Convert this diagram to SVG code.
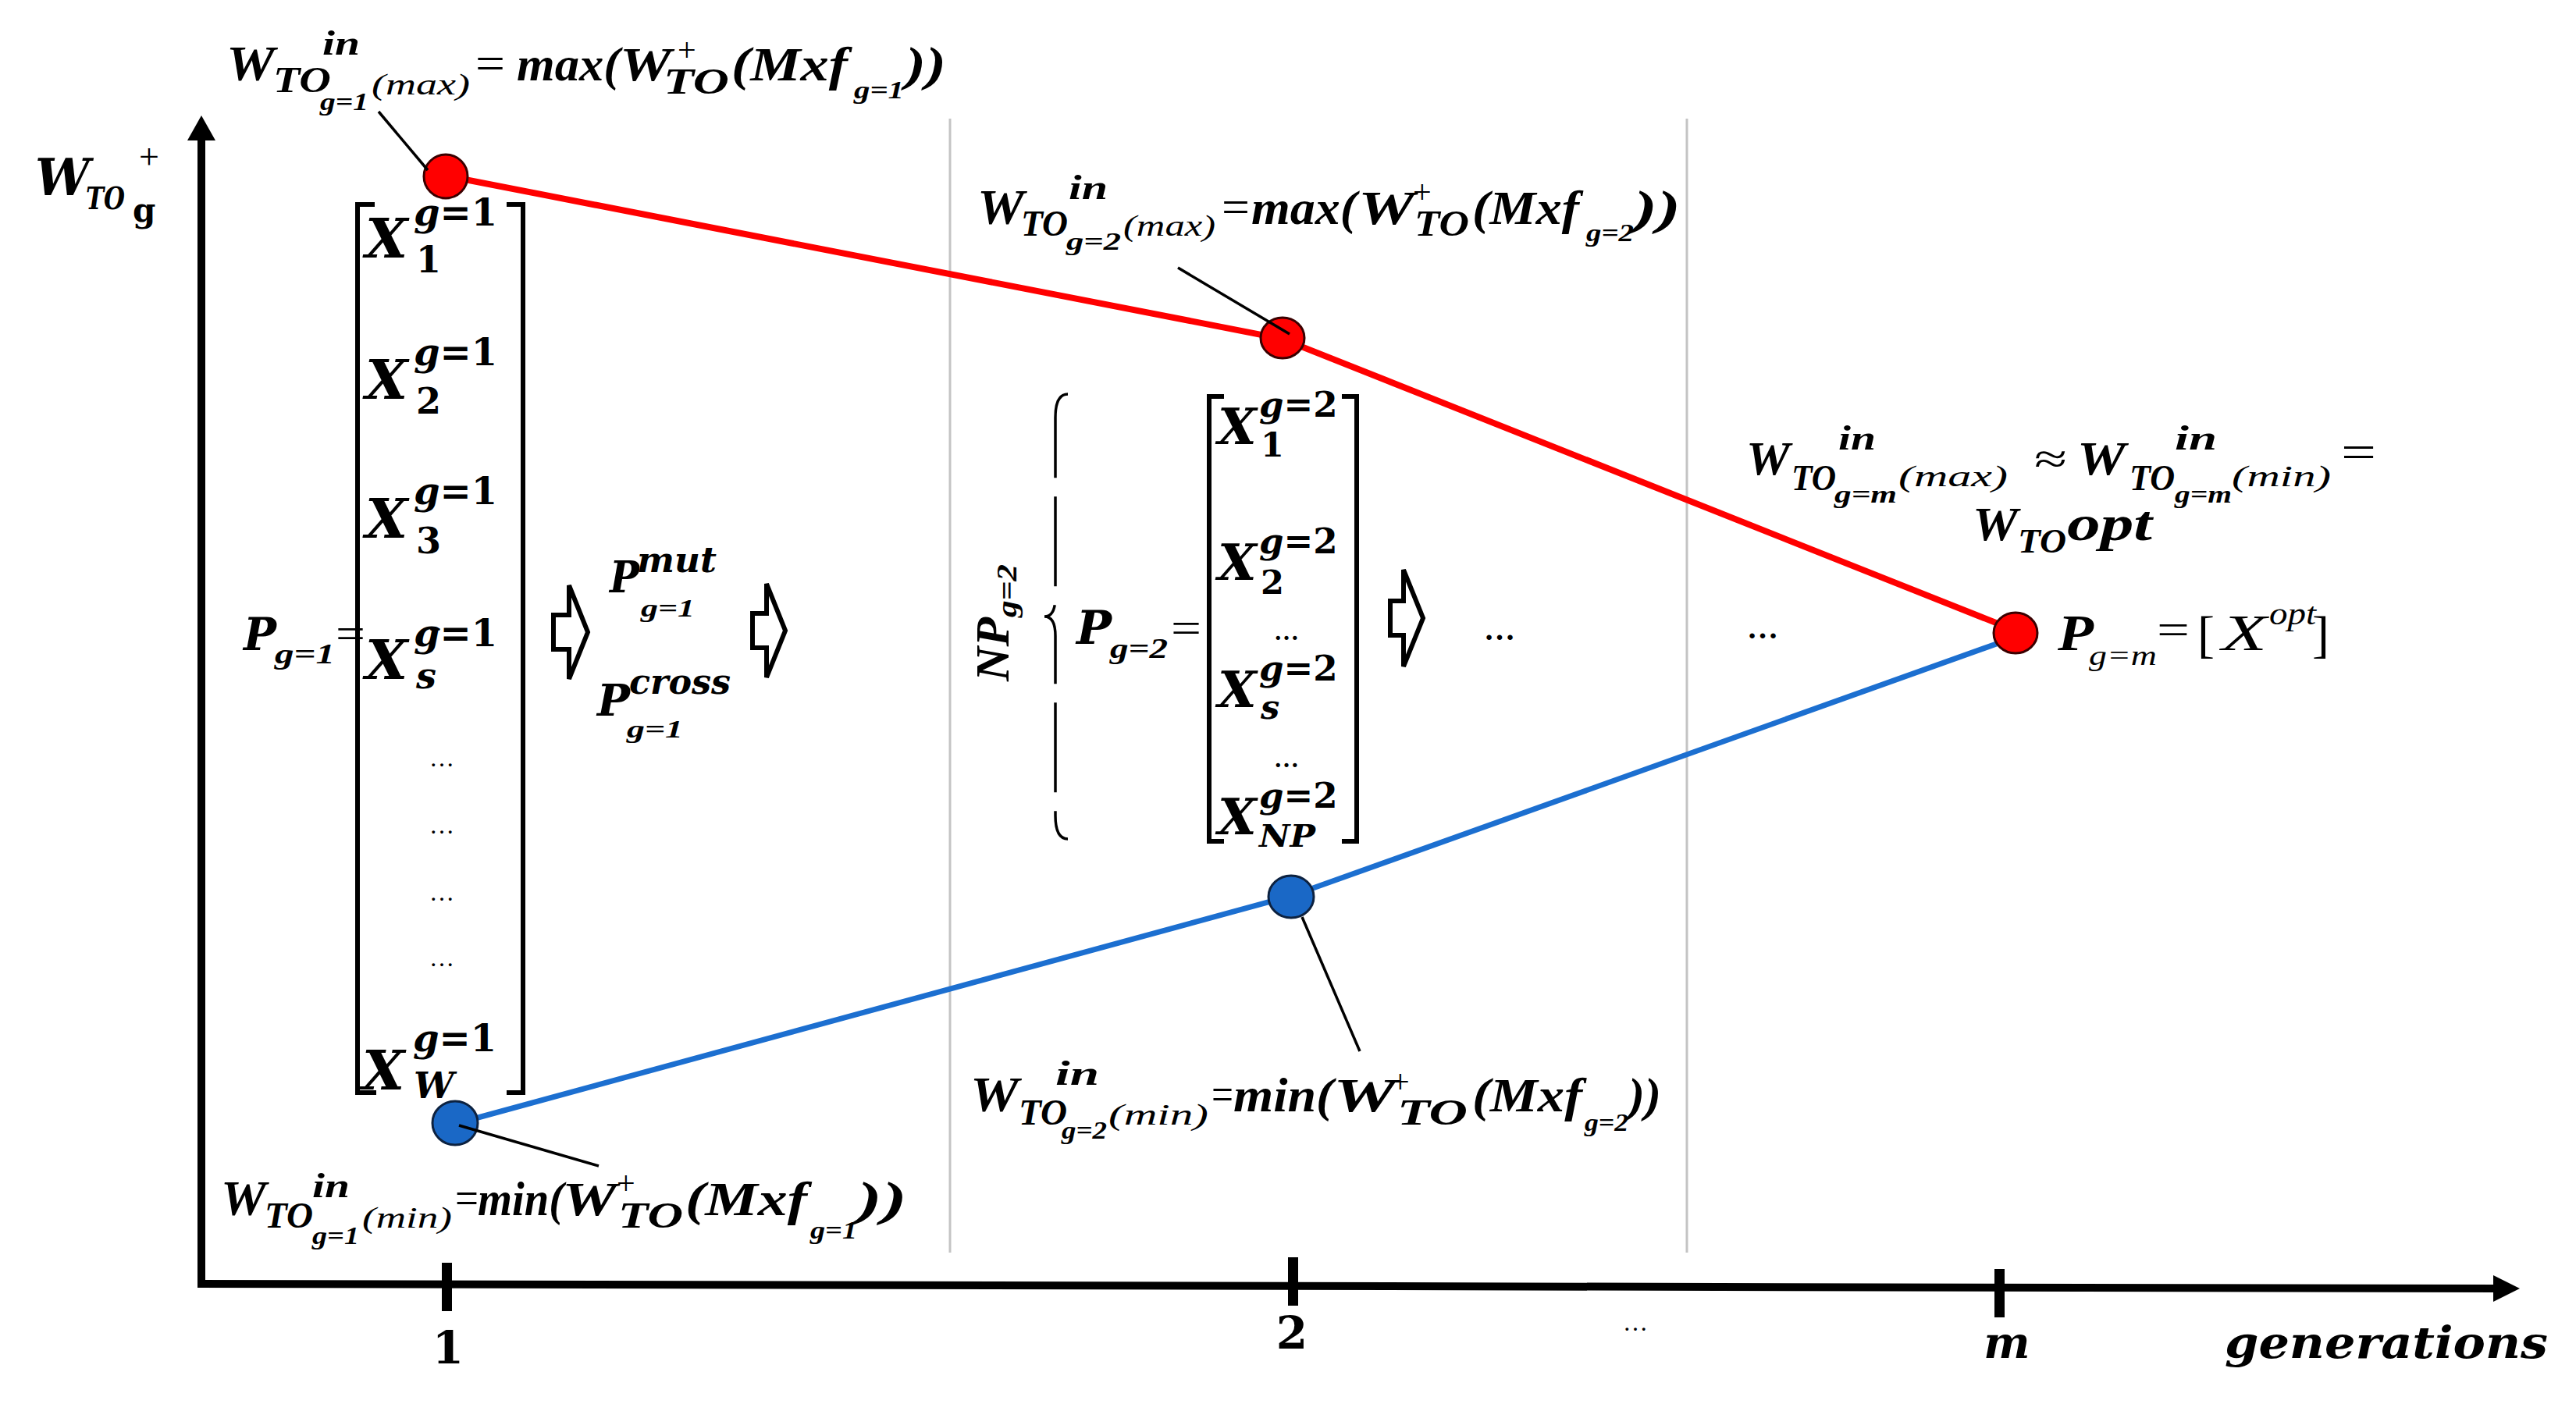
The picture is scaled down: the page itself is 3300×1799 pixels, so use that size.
<svg xmlns="http://www.w3.org/2000/svg" width="3300" height="1799" viewBox="0 0 3300 1799">
<style>
.t{font-family:"Liberation Serif",serif;fill:#000}
.bi{font-family:"Liberation Serif",serif;font-weight:bold;font-style:italic;fill:#000}
.it{font-family:"Liberation Serif",serif;font-style:italic;fill:#000}
.c{font-family:"DejaVu Serif",serif;font-weight:bold;fill:#000}
.ci{font-family:"DejaVu Serif",serif;font-weight:bold;font-style:italic;fill:#000}
.sep{stroke:#c4c4c4;stroke-width:3}
.ax{stroke:#000;stroke-width:10;fill:none}
.brk{stroke:#000;stroke-width:6;fill:none}
.red{stroke:#ff0000;stroke-width:8;fill:none}
.blue{stroke:#1c6fd0;stroke-width:7;fill:none}
.lead{stroke:#000;stroke-width:3.5;fill:none}
.rn{fill:#ff0000;stroke:#3a0000;stroke-width:3}
.bn{fill:#1a68c6;stroke:#0d2240;stroke-width:3}
.barrow{fill:#fff;stroke:#000;stroke-width:6;stroke-linejoin:miter}
.dots{font-family:"Liberation Serif",serif;font-size:32px;fill:#000}
</style>
<rect width="3300" height="1799" fill="#fff"/>

<g id="separators">
<line class="sep" x1="1217" y1="152" x2="1217" y2="1605"/>
<line class="sep" x1="2161" y1="152" x2="2161" y2="1605"/>
</g>

<g id="axes">
<line class="ax" x1="258" y1="1650" x2="258" y2="176"/>
<polygon points="258,148 240,180 276,180" fill="#000"/>
<line class="ax" x1="253" y1="1645" x2="3200" y2="1651"/>
<polygon points="3228,1651 3194,1634 3194,1668" fill="#000"/>
<rect x="566" y="1618" width="13" height="62" fill="#000"/>
<rect x="1650" y="1611" width="13" height="62" fill="#000"/>
<rect x="2555" y="1626" width="13" height="62" fill="#000"/>
<text class="c" x="574" y="1747" font-size="58" text-anchor="middle">1</text>
<text class="c" x="1655" y="1728" font-size="58" text-anchor="middle">2</text>
<text class="t" x="2095" y="1705" font-size="32" text-anchor="middle">…</text>
<text class="ci" x="2571" y="1740" font-size="56" text-anchor="middle">m</text>
<text class="ci" x="2850" y="1740" font-size="56" textLength="414" lengthAdjust="spacingAndGlyphs">generations</text>
<g id="ylabel">
<text class="ci" x="45" y="250" font-size="66" textLength="70" lengthAdjust="spacingAndGlyphs">W</text>
<text class="ci" x="110" y="268" font-size="40" textLength="50" lengthAdjust="spacingAndGlyphs">TO</text>
<text class="c" x="170" y="284" font-size="42">g</text>
<text class="t" x="178" y="216" font-size="46">+</text>
</g>
</g>

<g id="connectors">
<polyline class="red" points="570,225 1642,434 2582,808"/>
<polyline class="blue" points="583,1440 1654,1148 2580,817"/>
</g>

<g id="node-max1">
<circle class="rn" cx="571" cy="226" r="28"/>
<g id="label-max1">
<text class="bi" x="290" y="103" font-size="64" textLength="62" lengthAdjust="spacingAndGlyphs">W</text>
<text class="bi" x="413" y="70" font-size="44" textLength="48" lengthAdjust="spacingAndGlyphs">in</text>
<text class="bi" x="350" y="118" font-size="46" textLength="74" lengthAdjust="spacingAndGlyphs">TO</text>
<text class="bi" x="410" y="141" font-size="32" textLength="62" lengthAdjust="spacingAndGlyphs">g=1</text>
<text class="it" x="476" y="121" font-size="38" textLength="126" lengthAdjust="spacingAndGlyphs">(max)</text>
<text class="t" x="609" y="101" font-size="60" textLength="38" lengthAdjust="spacingAndGlyphs">=</text>
<text class="bi" x="662" y="103" font-size="62" textLength="132" lengthAdjust="spacingAndGlyphs">max(</text>
<text class="bi" x="794" y="103" font-size="62" textLength="66" lengthAdjust="spacingAndGlyphs">W</text>
<text class="t" x="868" y="78" font-size="42">+</text>
<text class="bi" x="850" y="120" font-size="46" textLength="84" lengthAdjust="spacingAndGlyphs">TO</text>
<text class="bi" x="937" y="103" font-size="62" textLength="149" lengthAdjust="spacingAndGlyphs">(Mxf</text>
<text class="bi" x="1094" y="126" font-size="32" textLength="64" lengthAdjust="spacingAndGlyphs">g=1</text>
<text class="bi" x="1160" y="103" font-size="62" textLength="52" lengthAdjust="spacingAndGlyphs">))</text>
</g>
</g>

<g id="node-max2">
<ellipse class="rn" cx="1643" cy="433" rx="28" ry="26"/>
<g id="label-max2">
<text class="bi" x="1252" y="287" font-size="64" textLength="60" lengthAdjust="spacingAndGlyphs">W</text>
<text class="bi" x="1369" y="255" font-size="44" textLength="50" lengthAdjust="spacingAndGlyphs">in</text>
<text class="bi" x="1308" y="302" font-size="46" textLength="60" lengthAdjust="spacingAndGlyphs">TO</text>
<text class="bi" x="1366" y="320" font-size="32" textLength="70" lengthAdjust="spacingAndGlyphs">g=2</text>
<text class="it" x="1439" y="302" font-size="38" textLength="118" lengthAdjust="spacingAndGlyphs">(max)</text>
<text class="t" x="1565" y="285" font-size="60" textLength="36" lengthAdjust="spacingAndGlyphs">=</text>
<text class="bi" x="1603" y="287" font-size="62" textLength="135" lengthAdjust="spacingAndGlyphs">max(</text>
<text class="bi" x="1740" y="287" font-size="62" textLength="72" lengthAdjust="spacingAndGlyphs">W</text>
<text class="t" x="1810" y="260" font-size="42">+</text>
<text class="bi" x="1812" y="302" font-size="46" textLength="70" lengthAdjust="spacingAndGlyphs">TO</text>
<text class="bi" x="1886" y="287" font-size="62" textLength="137" lengthAdjust="spacingAndGlyphs">(Mxf</text>
<text class="bi" x="2032" y="309" font-size="32" textLength="61" lengthAdjust="spacingAndGlyphs">g=2</text>
<text class="bi" x="2093" y="287" font-size="62" textLength="60" lengthAdjust="spacingAndGlyphs">))</text>
</g>
</g>

<g id="node-opt">
<ellipse class="rn" cx="2582" cy="811" rx="28" ry="26"/>
<g id="label-conv">
<text class="bi" x="2237" y="608" font-size="62" textLength="56" lengthAdjust="spacingAndGlyphs">W</text>
<text class="bi" x="2355" y="576" font-size="44" textLength="48" lengthAdjust="spacingAndGlyphs">in</text>
<text class="bi" x="2295" y="628" font-size="46" textLength="57" lengthAdjust="spacingAndGlyphs">TO</text>
<text class="bi" x="2350" y="644" font-size="32" textLength="80" lengthAdjust="spacingAndGlyphs">g=m</text>
<text class="it" x="2432" y="623" font-size="38" textLength="140" lengthAdjust="spacingAndGlyphs">(max)</text>
<text class="t" x="2606" y="606" font-size="54" textLength="42" lengthAdjust="spacingAndGlyphs">≈</text>
<text class="bi" x="2661" y="608" font-size="62" textLength="62" lengthAdjust="spacingAndGlyphs">W</text>
<text class="bi" x="2786" y="576" font-size="44" textLength="54" lengthAdjust="spacingAndGlyphs">in</text>
<text class="bi" x="2728" y="628" font-size="46" textLength="58" lengthAdjust="spacingAndGlyphs">TO</text>
<text class="bi" x="2786" y="644" font-size="32" textLength="73" lengthAdjust="spacingAndGlyphs">g=m</text>
<text class="it" x="2859" y="623" font-size="38" textLength="127" lengthAdjust="spacingAndGlyphs">(min)</text>
<text class="t" x="2999" y="600" font-size="62" textLength="45" lengthAdjust="spacingAndGlyphs">=</text>
<text class="bi" x="2527" y="692" font-size="62" textLength="58" lengthAdjust="spacingAndGlyphs">W</text>
<text class="bi" x="2585" y="708" font-size="44" textLength="62" lengthAdjust="spacingAndGlyphs">TO</text>
<text class="bi" x="2648" y="692" font-size="64" textLength="109" lengthAdjust="spacingAndGlyphs">opt</text>
</g>
<g id="label-popt">
<text class="bi" x="2636" y="833" font-size="66" textLength="46" lengthAdjust="spacingAndGlyphs">P</text>
<text class="it" x="2676" y="852" font-size="36" textLength="87" lengthAdjust="spacingAndGlyphs">g=m</text>
<text class="t" x="2763" y="826" font-size="58" textLength="42" lengthAdjust="spacingAndGlyphs">=</text>
<text class="t" x="2815" y="835" font-size="66">[</text>
<text class="it" x="2846" y="833" font-size="66" textLength="58" lengthAdjust="spacingAndGlyphs">X</text>
<text class="it" x="2907" y="800" font-size="40" textLength="60" lengthAdjust="spacingAndGlyphs">opt</text>
<text class="t" x="2962" y="835" font-size="66">]</text>
</g>
</g>

<g id="node-min1">
<ellipse class="bn" cx="583" cy="1439" rx="29" ry="28"/>
<g id="label-min1">
<text class="bi" x="283" y="1557" font-size="64" textLength="58" lengthAdjust="spacingAndGlyphs">W</text>
<text class="bi" x="400" y="1534" font-size="44" textLength="48" lengthAdjust="spacingAndGlyphs">in</text>
<text class="bi" x="339" y="1573" font-size="46" textLength="62" lengthAdjust="spacingAndGlyphs">TO</text>
<text class="bi" x="400" y="1594" font-size="32" textLength="60" lengthAdjust="spacingAndGlyphs">g=1</text>
<text class="it" x="464" y="1573" font-size="38" textLength="115" lengthAdjust="spacingAndGlyphs">(min)</text>
<text class="t" x="583" y="1555" font-size="60" textLength="30" lengthAdjust="spacingAndGlyphs">=</text>
<text class="bi" x="612" y="1557" font-size="62" textLength="110" lengthAdjust="spacingAndGlyphs">min(</text>
<text class="bi" x="720" y="1557" font-size="62" textLength="70" lengthAdjust="spacingAndGlyphs">W</text>
<text class="t" x="790" y="1530" font-size="42">+</text>
<text class="bi" x="792" y="1573" font-size="46" textLength="83" lengthAdjust="spacingAndGlyphs">TO</text>
<text class="bi" x="878" y="1557" font-size="62" textLength="156" lengthAdjust="spacingAndGlyphs">(Mxf</text>
<text class="bi" x="1038" y="1587" font-size="32" textLength="60" lengthAdjust="spacingAndGlyphs">g=1</text>
<text class="bi" x="1098" y="1557" font-size="62" textLength="64" lengthAdjust="spacingAndGlyphs">))</text>
</g>
</g>

<g id="node-min2">
<ellipse class="bn" cx="1654" cy="1149" rx="29" ry="27"/>
<g id="label-min2">
<text class="bi" x="1243" y="1424" font-size="64" textLength="62" lengthAdjust="spacingAndGlyphs">W</text>
<text class="bi" x="1352" y="1390" font-size="44" textLength="56" lengthAdjust="spacingAndGlyphs">in</text>
<text class="bi" x="1305" y="1441" font-size="46" textLength="62" lengthAdjust="spacingAndGlyphs">TO</text>
<text class="bi" x="1360" y="1459" font-size="32" textLength="58" lengthAdjust="spacingAndGlyphs">g=2</text>
<text class="it" x="1420" y="1441" font-size="38" textLength="128" lengthAdjust="spacingAndGlyphs">(min)</text>
<text class="t" x="1552" y="1422" font-size="60" textLength="28" lengthAdjust="spacingAndGlyphs">=</text>
<text class="bi" x="1580" y="1424" font-size="62" textLength="128" lengthAdjust="spacingAndGlyphs">min(</text>
<text class="bi" x="1708" y="1424" font-size="62" textLength="80" lengthAdjust="spacingAndGlyphs">W</text>
<text class="t" x="1782" y="1400" font-size="42">+</text>
<text class="bi" x="1790" y="1441" font-size="46" textLength="90" lengthAdjust="spacingAndGlyphs">TO</text>
<text class="bi" x="1886" y="1424" font-size="62" textLength="141" lengthAdjust="spacingAndGlyphs">(Mxf</text>
<text class="bi" x="2030" y="1449" font-size="32" textLength="56" lengthAdjust="spacingAndGlyphs">g=2</text>
<text class="bi" x="2086" y="1424" font-size="62" textLength="42" lengthAdjust="spacingAndGlyphs">))</text>
</g>
</g>

<g id="leaders">
<line class="lead" x1="485" y1="143" x2="548" y2="218"/>
<line class="lead" x1="1509" y1="343" x2="1652" y2="428"/>
<line class="lead" x1="588" y1="1442" x2="767" y2="1494"/>
<line class="lead" x1="1668" y1="1175" x2="1742" y2="1347"/>
</g>

<g id="population-1">
<text class="ci" x="312" y="833" font-size="58" textLength="42" lengthAdjust="spacingAndGlyphs">P</text>
<text class="bi" x="352" y="850" font-size="36" textLength="77" lengthAdjust="spacingAndGlyphs">g=1</text>
<text class="t" x="430" y="831" font-size="58" textLength="38" lengthAdjust="spacingAndGlyphs">=</text>
<path class="brk" d="M480 262 H458 V1400 H482"/>
<path class="brk" d="M649 262 H670 V1400 H649"/>
<g id="x1-1"><text class="ci" x="468" y="330" font-size="70">X</text><text class="c" x="530" y="289" font-size="48"><tspan font-style="italic">g</tspan>=1</text><text class="c" x="533" y="349" font-size="46">1</text></g>
<g id="x1-2"><text class="ci" x="468" y="511" font-size="70">X</text><text class="c" x="530" y="468" font-size="48"><tspan font-style="italic">g</tspan>=1</text><text class="c" x="533" y="530" font-size="46">2</text></g>
<g id="x1-3"><text class="ci" x="468" y="689" font-size="70">X</text><text class="c" x="530" y="646" font-size="48"><tspan font-style="italic">g</tspan>=1</text><text class="c" x="533" y="709" font-size="46">3</text></g>
<g id="x1-s"><text class="ci" x="468" y="870" font-size="70">X</text><text class="c" x="530" y="828" font-size="48"><tspan font-style="italic">g</tspan>=1</text><text class="ci" x="533" y="882" font-size="46">s</text><text class="t" x="548" y="808" font-size="28">…</text></g>
<text class="dots" x="566" y="982" text-anchor="middle">…</text>
<text class="dots" x="566" y="1068" text-anchor="middle">…</text>
<text class="dots" x="566" y="1154" text-anchor="middle">…</text>
<text class="dots" x="566" y="1238" text-anchor="middle">…</text>
<g id="x1-w"><text class="ci" x="464" y="1396" font-size="70">X</text><text class="c" x="529" y="1347" font-size="48"><tspan font-style="italic">g</tspan>=1</text><text class="ci" x="530" y="1407" font-size="46">W</text></g>
</g>

<g id="operators-1">
<polygon class="barrow" points="709,788 729,788 729,750 753,810 729,870 729,832 709,832"/>
<text class="ci" x="781" y="759" font-size="56" textLength="38" lengthAdjust="spacingAndGlyphs">P</text>
<text class="ci" x="816" y="733" font-size="44" textLength="102" lengthAdjust="spacingAndGlyphs">mut</text>
<text class="bi" x="821" y="790" font-size="32" textLength="69" lengthAdjust="spacingAndGlyphs">g=1</text>
<text class="ci" x="765" y="917" font-size="56" textLength="42" lengthAdjust="spacingAndGlyphs">P</text>
<text class="ci" x="806" y="889" font-size="44" textLength="130" lengthAdjust="spacingAndGlyphs">cross</text>
<text class="bi" x="803" y="945" font-size="32" textLength="72" lengthAdjust="spacingAndGlyphs">g=1</text>
<polygon class="barrow" points="964,786 982,786 982,748 1006,808 982,868 982,830 964,830"/>
</g>

<g id="population-2">
<g id="np-label" transform="translate(1292,873) rotate(-90)">
<text class="bi" x="0" y="0" font-size="62" textLength="82" lengthAdjust="spacingAndGlyphs">NP</text>
<text class="bi" x="82" y="10" font-size="36" textLength="68" lengthAdjust="spacingAndGlyphs">g=2</text>
</g>
<path d="M1368 505 Q1352 505 1352 535 L1352 765 Q1352 790 1338 790 Q1352 790 1352 815 L1352 1045 Q1352 1075 1368 1075" fill="none" stroke="#000" stroke-width="3.5" stroke-dasharray="115 24"/>
<text class="ci" x="1379" y="825" font-size="60" textLength="45" lengthAdjust="spacingAndGlyphs">P</text>
<text class="bi" x="1422" y="843" font-size="36" textLength="74" lengthAdjust="spacingAndGlyphs">g=2</text>
<text class="t" x="1500" y="824" font-size="58" textLength="39" lengthAdjust="spacingAndGlyphs">=</text>
<path class="brk" d="M1568 508 H1549 V1078 H1568"/>
<path class="brk" d="M1719 508 H1738 V1078 H1719"/>
<g id="x2-1"><text class="ci" x="1560" y="569" font-size="64">X</text><text class="c" x="1613" y="534" font-size="45"><tspan font-style="italic">g</tspan>=2</text><text class="c" x="1615" y="585" font-size="43">1</text></g>
<g id="x2-2"><text class="ci" x="1560" y="743" font-size="64">X</text><text class="c" x="1613" y="709" font-size="45"><tspan font-style="italic">g</tspan>=2</text><text class="c" x="1615" y="761" font-size="43">2</text></g>
<text class="dots" x="1648" y="820" text-anchor="middle" font-weight="bold">…</text>
<g id="x2-s"><text class="ci" x="1560" y="906" font-size="64">X</text><text class="c" x="1613" y="872" font-size="45"><tspan font-style="italic">g</tspan>=2</text><text class="ci" x="1615" y="921" font-size="43">s</text></g>
<text class="dots" x="1648" y="983" text-anchor="middle" font-weight="bold">…</text>
<g id="x2-np"><text class="ci" x="1560" y="1069" font-size="64">X</text><text class="c" x="1613" y="1035" font-size="45"><tspan font-style="italic">g</tspan>=2</text><text class="ci" x="1613" y="1085" font-size="40" textLength="72" lengthAdjust="spacingAndGlyphs">NP</text></g>
</g>

<g id="operators-2">
<polygon class="barrow" points="1781,770 1798,770 1798,730 1823,792 1798,854 1798,814 1781,814"/>
<text class="t" x="1921" y="820" font-size="40" font-weight="bold" text-anchor="middle">…</text>
<text class="t" x="2258" y="818" font-size="40" font-weight="bold" text-anchor="middle">…</text>
</g>
</svg>
